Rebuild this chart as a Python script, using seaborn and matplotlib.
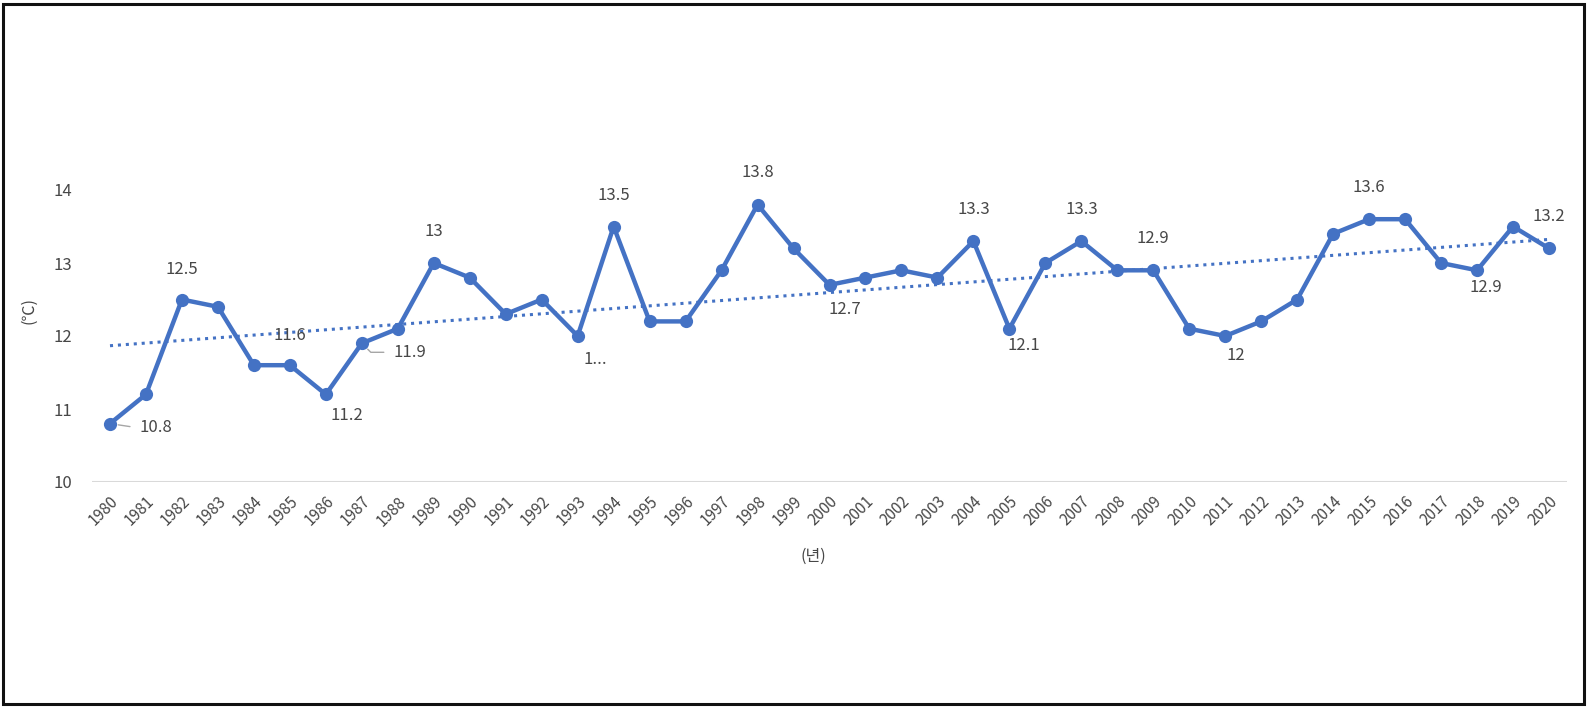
import numpy as np
import pandas as pd
import seaborn as sns
import matplotlib
matplotlib.use("Agg")
import matplotlib.pyplot as plt
from matplotlib.patches import Rectangle

# ---- data ----
years = list(range(1980, 2021))
temps = [10.8, 11.2, 12.5, 12.4, 11.6, 11.6, 11.2, 11.9, 12.1, 13.0,
         12.8, 12.3, 12.5, 12.0, 13.5, 12.2, 12.2, 12.9, 13.8, 13.2,
         12.7, 12.8, 12.9, 12.8, 13.3, 12.1, 13.0, 13.3, 12.9, 12.9,
         12.1, 12.0, 12.2, 12.5, 13.4, 13.6, 13.6, 13.0, 12.9, 13.5,
         13.2]
label_years = [1980, 1982, 1985, 1986, 1987, 1989, 1993, 1994, 1998, 2000,
               2004, 2005, 2007, 2009, 2011, 2015, 2018, 2020]
label_texts = ["10.8", "12.5", "11.6", "11.2", "11.9", "13", "1...", "13.5", "13.8", "12.7",
               "13.3", "12.1", "13.3", "12.9", "12", "13.6", "12.9", "13.2"]
y_ticks = [10, 11, 12, 13, 14]
x_label = "(년)"
y_label = "(℃)"

df = pd.DataFrame({"year": years, "temp": temps})

# ---- style ----
sns.set_theme(style="white")
plt.rcParams['font.family'] = ['Noto Sans CJK KR', 'DejaVu Sans']

BLUE = "#4472C4"
GRAY = "#474747"

fig = plt.figure(figsize=(15.88, 7.07), dpi=100)
W, H = 1588, 707
ax = fig.add_axes([92 / W, (H - 482) / H, (1567 - 92) / W, (482 - 190) / H])

# trend line
sns.regplot(data=df, x="year", y="temp", scatter=False, ci=None, truncate=True,
            ax=ax, line_kws=dict(color=BLUE, lw=2.2, ls=(0, (1, 1.6))))
# main series
sns.lineplot(data=df, x="year", y="temp", ax=ax, color=BLUE, lw=3.2,
             marker="o", markersize=9.5, markeredgewidth=0, zorder=3)
for ln in ax.lines:
    ln.set_clip_on(False)

ax.set_xlim(1979.5, 2020.5)
ax.set_ylim(10, 14)
ax.set_yticks(y_ticks)
ax.set_yticklabels([str(t) for t in y_ticks])
ax.set_xticks(years)
ax.set_xticklabels([str(y) for y in years], rotation=45, ha="right",
                   rotation_mode="anchor")
ax.tick_params(axis="x", labelsize=11, colors=GRAY, length=0, pad=8)
ax.tick_params(axis="y", labelsize=12, colors=GRAY, length=0, pad=14)
for s in ax.spines.values():
    s.set_visible(False)
ax.axhline(10, color="#D9D9D9", lw=1.5, zorder=1)
ax.set_xlabel(x_label, fontsize=11.5, color=GRAY, labelpad=0)
ax.set_ylabel(y_label, fontsize=11.5, color=GRAY, labelpad=0)
ax.xaxis.set_label_coords((813 - 92) / (1567 - 92), -(548 - 482) / (482 - 190))
ax.yaxis.set_label_coords(-(92 - 37) / (1567 - 92), (482 - 310) / (482 - 190))

# ---- data labels (layout offsets in pixels) ----
offsets = {1980: (46, -4), 1982: (0, 30), 1985: (0, 30), 1986: (21, -21),
           1987: (48, -9), 1989: (0, 31), 1993: (18, -23), 1994: (0, 31),
           1998: (0, 32), 2000: (15, -25), 2004: (0, 32), 2005: (14, -17),
           2007: (0, 32), 2009: (0, 32), 2011: (11, -19), 2015: (0, 32),
           2018: (9, -17), 2020: (0, 32)}
tmap = dict(zip(years, temps))
for yr, txt in zip(label_years, label_texts):
    dx, dy = offsets[yr]
    ax.annotate(txt, (yr, tmap[yr]), xytext=(dx, dy), textcoords="offset pixels",
                ha="center", va="center", fontsize=12, color=GRAY,
                annotation_clip=False, zorder=5)

# leader lines for 1980 and 1987
ax.annotate("", (1980, tmap[1980]), xytext=(20, -3), textcoords="offset pixels",
            arrowprops=dict(arrowstyle="-", color="#A6A6A6", lw=1, shrinkA=0, shrinkB=6))
ax.annotate("", (1987, tmap[1987]), xytext=(22, -9), textcoords="offset pixels",
            arrowprops=dict(arrowstyle="-", color="#A6A6A6", lw=1, shrinkA=0, shrinkB=6,
                            connectionstyle="angle,angleA=0,angleB=-45,rad=0"))

# outer frame
fig.patches.append(Rectangle((3 / W, 3 / H), (1584 - 3) / W, (703 - 3) / H,
                             transform=fig.transFigure, fill=False,
                             edgecolor="#111111", lw=2.2))

fig.savefig("out.png", dpi=100, facecolor="white")
